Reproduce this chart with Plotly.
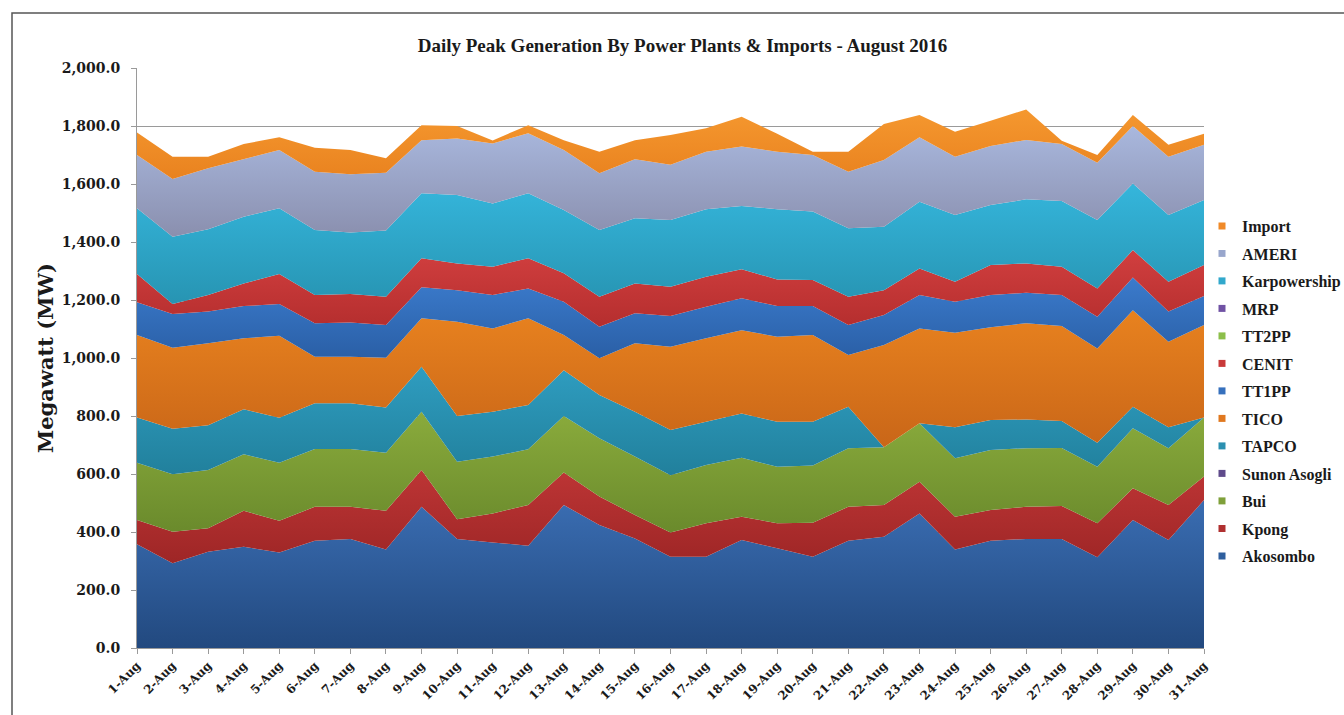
import numpy as np
import plotly.graph_objects as go

days = ['1-Aug', '2-Aug', '3-Aug', '4-Aug', '5-Aug', '6-Aug', '7-Aug', '8-Aug', '9-Aug', '10-Aug',
        '11-Aug', '12-Aug', '13-Aug', '14-Aug', '15-Aug', '16-Aug', '17-Aug', '18-Aug', '19-Aug', '20-Aug',
        '21-Aug', '22-Aug', '23-Aug', '24-Aug', '25-Aug', '26-Aug', '27-Aug', '28-Aug', '29-Aug', '30-Aug',
        '31-Aug']

akosombo = [358, 292, 332, 349, 329, 370, 376, 340, 487, 376, 364, 353, 493, 424, 378, 315, 315, 372, 344, 315,
            370, 384, 464, 340, 370, 376, 376, 313, 441, 372, 510]
kpong = [83, 109, 81, 124, 110, 117, 111, 133, 127, 68, 100, 140, 112, 98, 81, 83, 115, 81, 86, 117,
         117, 109, 109, 113, 106, 111, 114, 117, 110, 121, 81]
bui = [198, 198, 201, 195, 200, 199, 199, 200, 201, 198, 196, 192, 195, 201, 201, 198, 201, 203, 195, 197,
       202, 199, 202, 201, 207, 202, 200, 195, 207, 196, 204]
sunon_asogli = [0] * 31
tapco = [156, 157, 154, 155, 155, 158, 158, 156, 155, 158, 155, 153, 158, 149, 155, 156, 149, 153, 155, 151,
         143, 0, 0, 107, 103, 99, 93, 83, 74, 72, 0]
tico = [284, 279, 283, 245, 283, 160, 160, 172, 167, 325, 287, 299, 121, 127, 236, 287, 288, 287, 293, 299,
        178, 353, 327, 326, 320, 332, 327, 325, 333, 295, 319]
tt1pp = [113, 117, 109, 111, 109, 116, 118, 113, 107, 109, 115, 103, 115, 109, 103, 106, 109, 110, 106, 100,
         104, 103, 115, 107, 111, 105, 107, 109, 113, 104, 100]
cenit = [98, 34, 57, 78, 104, 97, 99, 97, 100, 92, 98, 104, 98, 103, 103, 101, 103, 100, 92, 90,
         97, 86, 92, 69, 104, 101, 98, 98, 94, 103, 107]
tt2pp = [0] * 31
mrp = [0] * 31
karpowership = [226, 232, 227, 230, 226, 224, 212, 229, 224, 236, 218, 224, 218, 230, 225, 230, 233, 218, 242, 236,
                236, 219, 230, 230, 207, 221, 226, 236, 230, 230, 224]
ameri = [184, 199, 210, 198, 201, 201, 201, 199, 183, 195, 207, 207, 207, 196, 203, 190, 198, 205, 198, 195,
         195, 230, 222, 201, 203, 205, 197, 197, 198, 201, 190]
imports = [78, 77, 40, 53, 44, 83, 83, 50, 52, 43, 10, 28, 34, 74, 66, 103, 81, 103, 62, 11,
           69, 124, 77, 86, 87, 105, 11, 27, 38, 41, 38]

series_names = ['Akosombo', 'Kpong', 'Bui', 'Sunon Asogli', 'TAPCO', 'TICO', 'TT1PP', 'CENIT',
                'TT2PP', 'MRP', 'Karpowership', 'AMERI', 'Import']
series_values = [akosombo, kpong, bui, sunon_asogli, tapco, tico, tt1pp, cenit, tt2pp, mrp,
                 karpowership, ameri, imports]
# (dark bottom, light top)
series_colors = [('#22497f', '#3a6db2'), ('#9e2626', '#bd3535'), ('#6a8a2c', '#8aab3c'),
                 ('#5f4b8b', '#6a559a'), ('#21809c', '#2f9dc0'), ('#c96618', '#e8821f'),
                 ('#2a5fa6', '#3b7bcc'), ('#b52e2e', '#d13f3f'), ('#7ea843', '#8cbf4a'),
                 ('#634896', '#7052a4'), ('#2794b2', '#35b6dc'), ('#8a8fae', '#a9b8de'),
                 ('#e9821f', '#f5982f')]
legend_colors = ['#2f5f9e', '#b03030', '#7fa03a', '#5f4b8b', '#2b90b0', '#e0781f', '#3670bd',
                 '#c93a3a', '#8cbf4a', '#7052a4', '#31a8cc', '#98a6cc', '#f08a28']

serif_ticks = 'DejaVu Serif'
serif_text = 'Liberation Serif'

fig = go.Figure()

cum = np.cumsum(np.array(series_values, dtype=float), axis=0)
lower = np.vstack([np.zeros(len(days)), cum[:-1]])

for i, (name, vals) in enumerate(zip(series_names, series_values)):
    dark, light = series_colors[i]
    fig.add_trace(go.Scatter(
        x=days, y=vals, name=name, stackgroup='gen', mode='lines',
        line=dict(width=0, color=light),
        fillcolor=light,
        fillgradient=dict(type='vertical', colorscale=[[0, dark], [1, light]],
                          start=float(lower[i].min()), stop=float(cum[i].max())),
        showlegend=False, hoverinfo='x+y+name'))

# legend entries, top (Import) to bottom (Akosombo)
for i in reversed(range(len(series_names))):
    name = series_names[i]
    fig.add_trace(go.Scatter(
        x=[None], y=[None], mode='markers', name=name, legendgroup=name,
        marker=dict(symbol='square', size=7, color=legend_colors[i]),
        showlegend=True))

fig.update_layout(
    width=1344, height=715,
    margin=dict(l=137, r=140, t=68, b=67, autoexpand=False),
    paper_bgcolor='white', plot_bgcolor='white',
    title=dict(text='Daily Peak Generation By Power Plants & Imports - August 2016',
               x=682.5 / 1344, xanchor='center', y=1 - 45.5 / 715, yanchor='middle',
               font=dict(family=serif_text, size=19, color='#1a1a1a', weight='bold')),
    legend=dict(xref='container', yref='container',
                x=1202 / 1344, xanchor='left', y=1 - 209 / 715, yanchor='top',
                traceorder='grouped', tracegroupgap=3.7,
                font=dict(family=serif_text, size=16, color='#1a1a1a', weight='bold'),
                bgcolor='rgba(0,0,0,0)', itemwidth=30),
    showlegend=True,
)

fig.update_xaxes(
    type='category', range=[0, len(days) - 1],
    tickmode='linear', tick0=0, dtick=1, tickangle=-45,
    ticks='outside', ticklen=5, tickcolor='#9a9a9a',
    showline=True, linecolor='#9a9a9a', linewidth=1, showgrid=False,
    tickfont=dict(family=serif_ticks, size=12, color='#1a1a1a', weight='bold'),
)
fig.update_yaxes(
    range=[0, 2000], dtick=200, tickformat=',.1f',
    ticks='outside', ticklen=5, tickcolor='#9a9a9a', ticklabelstandoff=8,
    showline=True, linecolor='#9a9a9a', linewidth=1,
    showgrid=True, gridcolor='#9a9a9a', gridwidth=1,
    tickfont=dict(family=serif_ticks, size=14, color='#1a1a1a', weight='bold'),
    title=dict(text='Megawatt (MW)', standoff=2,
               font=dict(family=serif_ticks, size=21, color='#1a1a1a', weight='bold')),
)

# outer chart border
fig.add_shape(type='rect', xref='paper', yref='paper',
              x0=(12 - 137) / 1067, x1=(1360 - 137) / 1067,
              y0=(648 - 730) / 580, y1=(648 - 13) / 580,
              line=dict(color='#555555', width=1.5), fillcolor='rgba(0,0,0,0)', layer='above')

fig.write_html('out.html')
